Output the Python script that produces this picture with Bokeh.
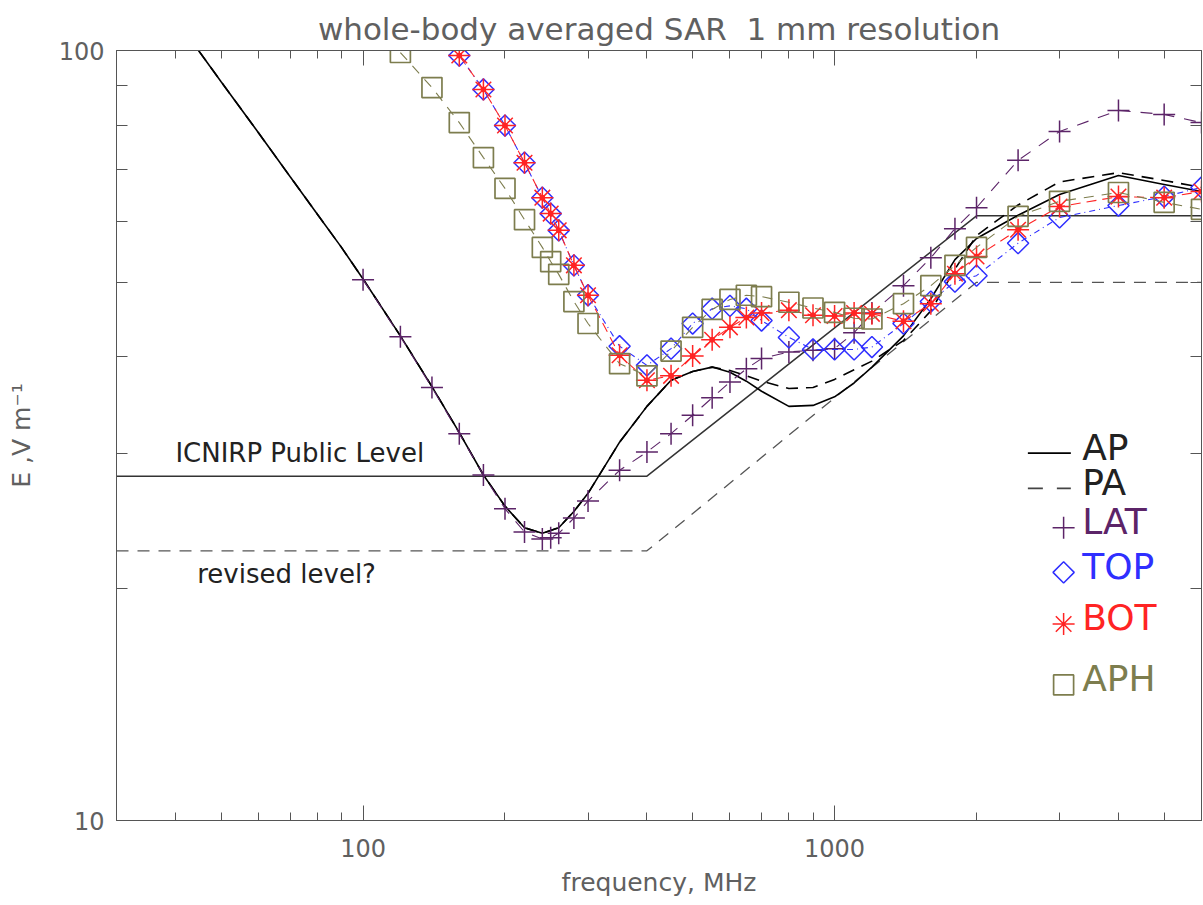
import numpy as np
from bokeh.plotting import figure
from bokeh.models import LogAxis, FixedTicker, NumeralTickFormatter, Label, Range1d
from bokeh.embed import file_html
from bokeh.resources import INLINE

# ---- axis ticks ----
x_major = [100, 1000]
x_minor = [40, 50, 60, 70, 80, 90, 200, 300, 400, 500, 600, 700, 800, 900, 2000, 3000, 4000, 5000]
y_major = [10, 100]
y_minor = [20, 30, 40, 50, 60, 70, 80, 90]

# ---- reference levels (E, V/m) ----
icnirp_f = [30, 400, 2000, 6000]
icnirp_e = [28.0, 28.0, 61.0, 61.0]
revised_f = [30, 400, 2000, 6000]
revised_e = [22.4, 22.4, 50.0, 50.0]

# ---- AP / PA curves ----
ap_f = [30, 40, 50, 60, 70, 80, 90, 100, 120, 140, 160, 180, 200, 220, 240, 260, 280, 300, 350,
        400, 450, 500, 550, 600, 650, 700, 800, 900, 1000, 1100, 1200, 1400, 1600, 1800, 2000,
        2450, 3000, 4000, 5000, 6000]
ap_e = [140.0, 110.0, 91.1, 78.2, 68.6, 61.3, 55.5, 50.5, 42.6, 36.6, 31.9, 28.1, 25.6, 24.0, 23.6,
        24.0, 25.2, 26.6, 31.0, 34.5, 37.3, 38.3, 38.8, 38.2, 37.2, 36.1, 34.5, 34.6, 35.5, 37.0,
        38.8, 42.6, 47.6, 53.5, 57.0, 61.1, 65.0, 68.8, 67.0, 65.6]
pa_f = ap_f
pa_e = [140.0, 110.0, 91.1, 78.2, 68.6, 61.3, 55.5, 50.5, 42.6, 36.6, 31.9, 28.1, 25.6, 24.0, 23.6,
        24.0, 25.2, 26.6, 31.0, 34.5, 37.3, 38.3, 38.8, 38.4, 37.8, 37.2, 36.4, 36.5, 37.4, 38.5,
        39.5, 42.0, 45.9, 52.0, 57.5, 63.0, 67.5, 69.4, 67.8, 66.4]

# ---- LAT ----
lat_f = [100, 120, 140, 160, 180, 200, 220, 240, 250, 260, 280, 300, 350, 400, 450, 500, 550, 600,
         650, 700, 800, 900, 1000, 1100, 1200, 1400, 1600, 1800, 2000, 2450, 3000, 4000, 5000, 6000]
lat_e = [50.4, 42.5, 36.5, 31.8, 28.1, 25.4, 23.7, 23.2, 23.3, 23.6, 24.7, 26.0, 28.5, 30.1, 31.8,
         33.6, 35.4, 37.1, 38.6, 39.8, 40.6, 40.8, 41.0, 43.0, 45.6, 49.5, 53.8, 58.7, 62.5, 72.0,
         78.5, 83.6, 82.6, 80.6]

# ---- TOP / BOT ----
tb_f = [160, 180, 200, 220, 240, 250, 260, 280, 300, 350, 400, 450, 500, 550, 600, 650, 700, 800,
        900, 1000, 1100, 1200, 1400, 1600, 1800, 2000, 2450, 3000, 4000, 5000, 6000]
top_e = [98.5, 89.0, 79.9, 71.5, 64.4, 61.4, 58.4, 52.6, 48.1, 41.3, 39.0, 41.0, 44.2, 46.2, 46.6,
         46.2, 44.6, 42.4, 40.9, 40.9, 40.9, 41.2, 44.2, 47.2, 50.1, 51.0, 56.2, 60.7, 62.9, 64.6, 66.4]
bot_e = [98.5, 89.0, 79.9, 71.5, 64.4, 61.4, 58.4, 52.6, 48.1, 40.2, 37.3, 37.8, 40.1, 42.1, 43.7,
         45.0, 45.6, 46.0, 45.3, 45.2, 45.6, 45.5, 44.5, 46.9, 51.3, 54.0, 58.5, 62.7, 64.6, 64.4, 65.6]

# ---- APH ----
aph_f = [120, 140, 160, 180, 200, 220, 240, 250, 260, 280, 300, 350, 400, 450, 500, 550, 600, 650,
         700, 800, 900, 1000, 1100, 1200, 1400, 1600, 1800, 2000, 2450, 3000, 4000, 5000, 6000]
aph_e = [99.4, 89.5, 80.6, 72.6, 66.2, 60.3, 55.5, 53.2, 51.2, 47.2, 44.2, 39.2, 37.8, 40.7, 43.7,
         46.1, 47.5, 48.1, 47.9, 47.1, 46.3, 45.7, 44.9, 44.8, 46.9, 49.5, 52.6, 55.5, 60.9, 63.7,
         65.4, 63.5, 62.2]

# ---- legend rows ----
legend_names = ["AP", "PA", "LAT", "TOP", "BOT", "APH"]
legend_e = [30, 27, 24, 21, 18, 15]
legend_line_f = [2570, 3170]
legend_sym_f = 3060
legend_text_f = 3350

PURPLE = "#5c2468"
BLUE = "#2f2fff"
RED = "#ff2424"
OLIVE = "#7d7d4e"
AXIS = "#555555"
FONT = "DejaVu Sans"

p = figure(width=1203, height=905, x_axis_type="log", y_axis_type="log",
           x_range=Range1d(30, 6000), y_range=Range1d(10, 100),
           output_backend="svg", toolbar_location=None,
           title="whole-body averaged SAR \u00a01 mm resolution",
           min_border_left=116, min_border_right=2, min_border_top=50, min_border_bottom=85)
p.background_fill_color = "white"
p.border_fill_color = "white"
p.outline_line_color = AXIS
p.xgrid.visible = False
p.ygrid.visible = False

p.title.text_font = FONT
p.title.text_font_size = "31px"
p.title.text_font_style = "normal"
p.title.text_color = "#606060"
p.title.align = "center"
p.title.standoff = 8


def style_axis(ax, major, minor, tin_major, tin_minor, labels=True):
    ax.ticker = FixedTicker(ticks=major, minor_ticks=minor)
    ax.axis_line_color = AXIS
    ax.major_tick_line_color = AXIS
    ax.minor_tick_line_color = AXIS
    ax.major_tick_in = tin_major
    ax.major_tick_out = 0
    ax.minor_tick_in = tin_minor
    ax.minor_tick_out = 0
    if labels:
        ax.formatter = NumeralTickFormatter(format="0")
        ax.major_label_text_font = FONT
        ax.major_label_text_font_size = "24px"
        ax.major_label_text_color = "#606060"
        ax.axis_label_text_font = FONT
        ax.axis_label_text_font_size = "25px"
        ax.axis_label_text_font_style = "normal"
        ax.axis_label_text_color = "#606060"
    else:
        # tick marks only on the opposite sides of the box
        ax.major_label_text_font_size = "1px"
        ax.major_label_text_alpha = 0
        ax.major_label_standoff = 0


xb = p.below[0]
style_axis(xb, x_major, x_minor, 15, 8)
xb.axis_label = "frequency, MHz"
xb.major_label_standoff = 18
xb.axis_label_standoff = 8

yl = p.left[0]
style_axis(yl, y_major, y_minor, 22, 11)
yl.axis_label = "E ,V m\u207b\u00b9"
yl.major_label_standoff = 12
yl.axis_label_standoff = 20

xt = LogAxis()
style_axis(xt, x_major, x_minor, 15, 8, labels=False)
p.add_layout(xt, "above")
yr = LogAxis()
style_axis(yr, y_major, y_minor, 22, 11, labels=False)
p.add_layout(yr, "right")

# reference levels
p.line(icnirp_f, icnirp_e, line_color="#333333", line_width=1.5)
p.line(revised_f, revised_e, line_color="#555555", line_width=1.3, line_dash="12 9")

# AP / PA
p.line(ap_f, ap_e, line_color="black", line_width=1.6)
p.line(pa_f, pa_e, line_color="black", line_width=1.6, line_dash="12 8")

# LAT
p.line(lat_f, lat_e, line_color=PURPLE, line_width=1.1, line_dash="12 10")
p.scatter(lat_f, lat_e, marker="cross", size=22, line_color=PURPLE, line_width=1.5)

# TOP
p.line(tb_f, top_e, line_color=BLUE, line_width=1.1, line_dash="6 4 1 4")
p.scatter(tb_f, top_e, marker="square", angle=np.pi / 4, size=15, fill_color=None,
          line_color=BLUE, line_width=1.5)

# BOT
p.line(tb_f, bot_e, line_color=RED, line_width=1.1, line_dash="10 6")
p.scatter(tb_f, bot_e, marker="asterisk", size=22, line_color=RED, line_width=1.5)
p.scatter(tb_f, bot_e, marker="circle", size=5, fill_color=RED, line_color=RED)

# APH
p.line(aph_f, aph_e, line_color=OLIVE, line_width=1.1, line_dash="10 8")
p.scatter(aph_f, aph_e, marker="square", size=20, fill_color=None, line_color=OLIVE, line_width=1.7)

# level annotations
p.add_layout(Label(x=40, y=30, text="ICNIRP Public Level", text_font=FONT, text_font_size="26px",
                   text_color="#222222", text_baseline="alphabetic"))
p.add_layout(Label(x=44.5, y=20.9, text="revised level?", text_font=FONT, text_font_size="26px",
                   text_color="#222222", text_baseline="alphabetic"))

# legend
legend_colors = ["#222222", "#222222", PURPLE, BLUE, RED, OLIVE]
p.line(legend_line_f, [legend_e[0]] * 2, line_color="black", line_width=1.6)
p.line(legend_line_f, [legend_e[1]] * 2, line_color="#444444", line_width=1.6, line_dash="15 14")
p.scatter([legend_sym_f], [legend_e[2]], marker="cross", size=22, line_color=PURPLE, line_width=1.5)
p.scatter([legend_sym_f], [legend_e[3]], marker="square", angle=np.pi / 4, size=15, fill_color=None,
          line_color=BLUE, line_width=1.5)
p.scatter([legend_sym_f], [legend_e[4]], marker="asterisk", size=22, line_color=RED, line_width=1.5)
p.scatter([legend_sym_f], [legend_e[5]], marker="square", size=20, fill_color=None,
          line_color=OLIVE, line_width=1.7)
for name, ev, col in zip(legend_names, legend_e, legend_colors):
    p.add_layout(Label(x=legend_text_f, y=ev, text=name, text_font=FONT, text_font_size="36px",
                       text_color=col, text_baseline="middle", y_offset=6))

open("out.html", "w").write(file_html(p, INLINE))
